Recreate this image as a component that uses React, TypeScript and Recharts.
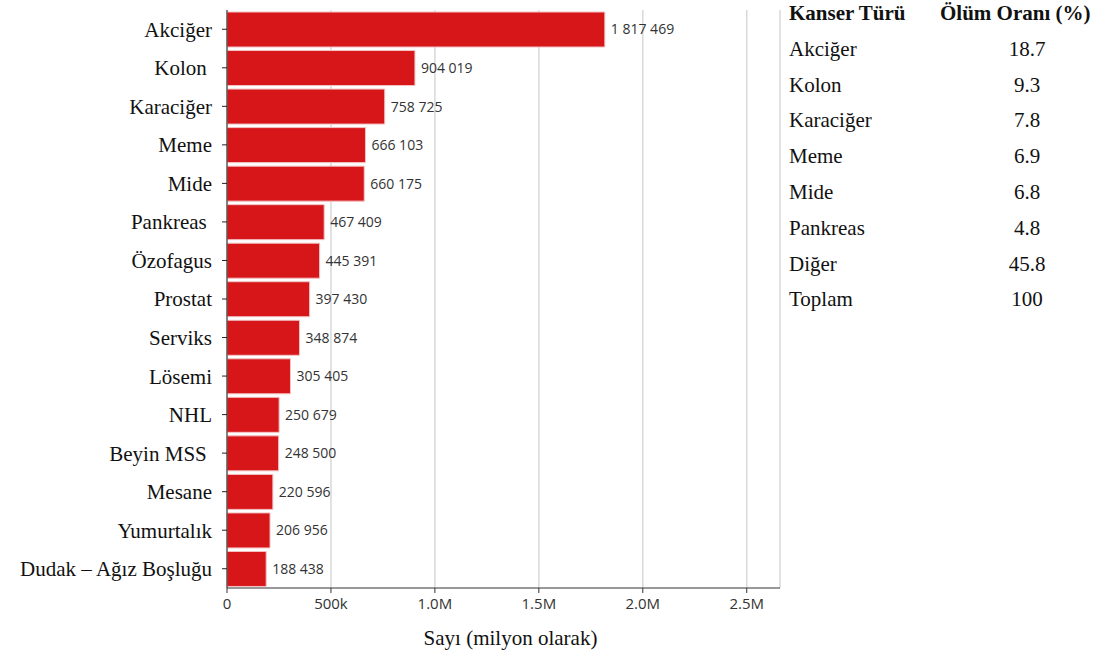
import React from 'react';
import { BarChart, Bar, XAxis, YAxis, CartesianGrid, LabelList } from 'recharts';

const cancerTypes = [
  'Akciğer', 'Kolon\u00a0', 'Karaciğer', 'Meme', 'Mide', 'Pankreas\u00a0', 'Özofagus', 'Prostat',
  'Serviks', 'Lösemi', 'NHL', 'Beyin MSS\u00a0', 'Mesane', 'Yumurtalık', 'Dudak – Ağız Boşluğu',
];
const deaths = [
  1817469, 904019, 758725, 666103, 660175, 467409, 445391, 397430,
  348874, 305405, 250679, 248500, 220596, 206956, 188438,
];
const xTicks = [0, 500000, 1000000, 1500000, 2000000, 2500000];

const tableTypes = ['Akciğer', 'Kolon', 'Karaciğer', 'Meme', 'Mide', 'Pankreas', 'Diğer', 'Toplam'];
const tableRates = ['18.7', '9.3', '7.8', '6.9', '6.8', '4.8', '45.8', '100'];

const data = cancerTypes.map((name, i) => ({ name, value: deaths[i] }));

const serif = '"Liberation Serif", "Times New Roman", serif';
const sans = '"Open Sans", "Noto Sans", sans-serif';

const fmtTick = (v: number) => {
  if (v === 0) return '0';
  if (v < 1000000) return `${v / 1000}k`;
  return `${(v / 1000000).toFixed(1)}M`;
};
const fmtValue = (v: any) => String(v).replace(/\B(?=(\d{3})+(?!\d))/g, ' ');

export default function App() {
  return (
    <div style={{ position: 'absolute', left: 0, top: 0, width: 1105, height: 659, background: '#fff' }}>
      <BarChart
        width={790}
        height={659}
        data={data}
        layout="vertical"
        margin={{ top: 10, right: 10, bottom: 0, left: 0 }}
        barCategoryGap={2}
      >
        <CartesianGrid horizontal={false} stroke="#d9d9d9" strokeWidth={1.5} />
        <XAxis
          type="number"
          domain={[0, 2660000]}
          ticks={xTicks}
          tickFormatter={fmtTick}
          height={71}
          stroke="#333"
          tick={{ fill: '#333', fontSize: 15, fontFamily: sans }}
          tickSize={5}
          tickMargin={5}
          label={{
            value: 'Sayı (milyon olarak)',
            position: 'insideBottom',
            offset: 14,
            fill: '#111',
            fontSize: 21,
            fontFamily: serif,
            dx: 7,
          }}
        />
        <YAxis
          type="category"
          dataKey="name"
          width={227}
          stroke="#222"
          tickSize={5}
          tickMargin={10}
          tick={{ fill: '#111', fontSize: 21, fontFamily: serif }}
          interval={0}
        />
        <Bar dataKey="value" fill="#d7161a" stroke="#f3c2c2" strokeWidth={1} isAnimationActive={false}>
          <LabelList
            dataKey="value"
            position="right"
            offset={6}
            formatter={fmtValue}
            style={{ fill: '#333', fontSize: 14, fontFamily: sans }}
          />
        </Bar>
      </BarChart>
      <div style={{ position: 'absolute', left: 789, top: -4, fontFamily: serif, fontSize: 21, color: '#111', lineHeight: '35.8px' }}>
        <div style={{ display: 'flex', fontWeight: 'bold' }}>
          <div style={{ width: 151 }}>Kanser Türü</div>
          <div style={{ width: 165, whiteSpace: 'nowrap' }}>Ölüm Oranı (%)</div>
        </div>
        {tableTypes.map((t, i) => (
          <div key={t} style={{ display: 'flex' }}>
            <div style={{ width: 151 }}>{t}</div>
            <div style={{ width: 174, textAlign: 'center' }}>{tableRates[i]}</div>
          </div>
        ))}
      </div>
    </div>
  );
}
